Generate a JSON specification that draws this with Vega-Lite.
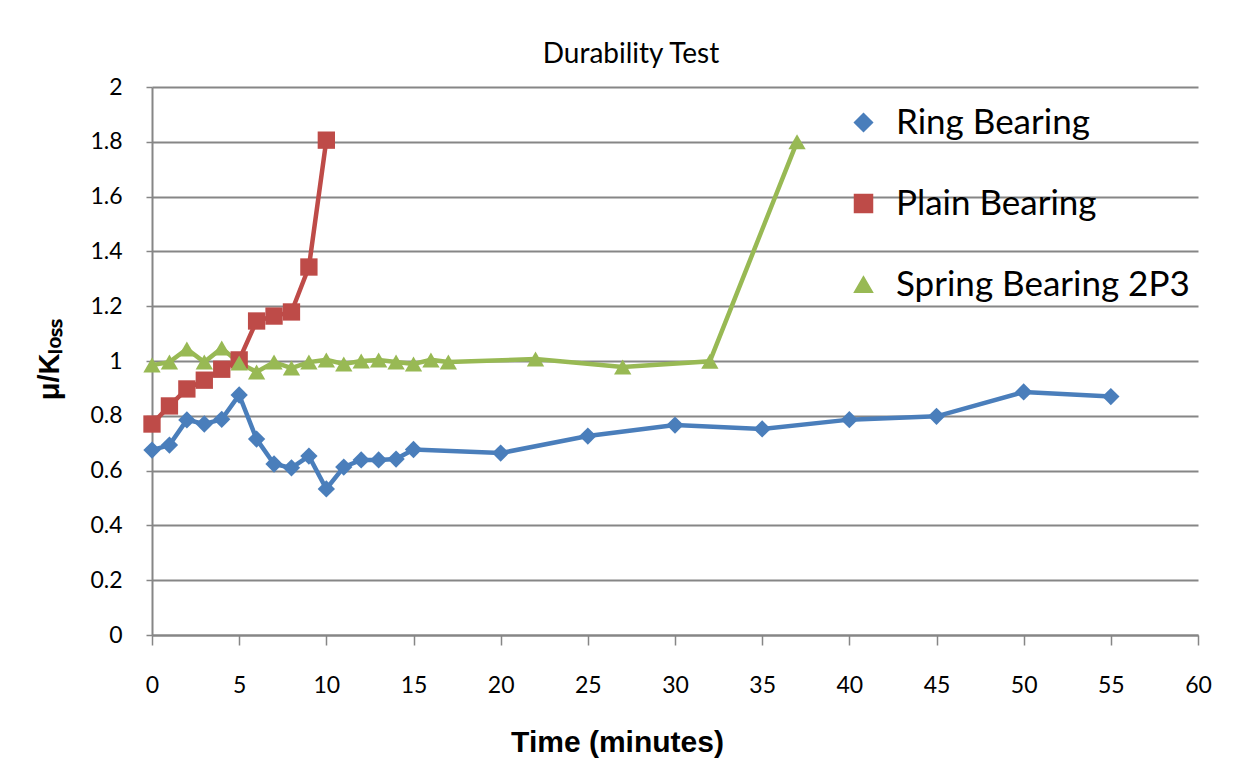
{
  "$schema": "https://vega.github.io/schema/vega-lite/v6.json",
  "autosize": {"type": "none"},
  "width": 1046,
  "height": 548,
  "padding": {"left": 152, "top": 87, "right": 55, "bottom": 125},
  "background": "white",
  "title": {"text": "Durability Test", "font": "Lato", "fontSize": 28, "fontWeight": "normal", "color": "black", "anchor": "middle", "dx": -44, "offset": 7},
  "data": {"values": [
    {"t": 0, "v": 0.675, "s": "Ring Bearing"},
    {"t": 1, "v": 0.693, "s": "Ring Bearing"},
    {"t": 2, "v": 0.785, "s": "Ring Bearing"},
    {"t": 3, "v": 0.77, "s": "Ring Bearing"},
    {"t": 4, "v": 0.787, "s": "Ring Bearing"},
    {"t": 5, "v": 0.876, "s": "Ring Bearing"},
    {"t": 6, "v": 0.715, "s": "Ring Bearing"},
    {"t": 7, "v": 0.624, "s": "Ring Bearing"},
    {"t": 8, "v": 0.61, "s": "Ring Bearing"},
    {"t": 9, "v": 0.653, "s": "Ring Bearing"},
    {"t": 10, "v": 0.533, "s": "Ring Bearing"},
    {"t": 11, "v": 0.613, "s": "Ring Bearing"},
    {"t": 12, "v": 0.639, "s": "Ring Bearing"},
    {"t": 13, "v": 0.639, "s": "Ring Bearing"},
    {"t": 14, "v": 0.642, "s": "Ring Bearing"},
    {"t": 15, "v": 0.677, "s": "Ring Bearing"},
    {"t": 20, "v": 0.664, "s": "Ring Bearing"},
    {"t": 25, "v": 0.726, "s": "Ring Bearing"},
    {"t": 30, "v": 0.766, "s": "Ring Bearing"},
    {"t": 35, "v": 0.752, "s": "Ring Bearing"},
    {"t": 40, "v": 0.786, "s": "Ring Bearing"},
    {"t": 45, "v": 0.798, "s": "Ring Bearing"},
    {"t": 50, "v": 0.887, "s": "Ring Bearing"},
    {"t": 55, "v": 0.87, "s": "Ring Bearing"},
    {"t": 0, "v": 0.77, "s": "Plain Bearing"},
    {"t": 1, "v": 0.836, "s": "Plain Bearing"},
    {"t": 2, "v": 0.898, "s": "Plain Bearing"},
    {"t": 3, "v": 0.93, "s": "Plain Bearing"},
    {"t": 4, "v": 0.97, "s": "Plain Bearing"},
    {"t": 5, "v": 1.004, "s": "Plain Bearing"},
    {"t": 6, "v": 1.146, "s": "Plain Bearing"},
    {"t": 7, "v": 1.164, "s": "Plain Bearing"},
    {"t": 8, "v": 1.179, "s": "Plain Bearing"},
    {"t": 9, "v": 1.343, "s": "Plain Bearing"},
    {"t": 10, "v": 1.806, "s": "Plain Bearing"},
    {"t": 0, "v": 0.985, "s": "Spring Bearing 2P3"},
    {"t": 1, "v": 0.996, "s": "Spring Bearing 2P3"},
    {"t": 2, "v": 1.044, "s": "Spring Bearing 2P3"},
    {"t": 3, "v": 0.996, "s": "Spring Bearing 2P3"},
    {"t": 4, "v": 1.047, "s": "Spring Bearing 2P3"},
    {"t": 5, "v": 0.993, "s": "Spring Bearing 2P3"},
    {"t": 6, "v": 0.96, "s": "Spring Bearing 2P3"},
    {"t": 7, "v": 0.996, "s": "Spring Bearing 2P3"},
    {"t": 8, "v": 0.974, "s": "Spring Bearing 2P3"},
    {"t": 9, "v": 0.996, "s": "Spring Bearing 2P3"},
    {"t": 10, "v": 1.004, "s": "Spring Bearing 2P3"},
    {"t": 11, "v": 0.989, "s": "Spring Bearing 2P3"},
    {"t": 12, "v": 1.0, "s": "Spring Bearing 2P3"},
    {"t": 13, "v": 1.004, "s": "Spring Bearing 2P3"},
    {"t": 14, "v": 0.996, "s": "Spring Bearing 2P3"},
    {"t": 15, "v": 0.989, "s": "Spring Bearing 2P3"},
    {"t": 16, "v": 1.004, "s": "Spring Bearing 2P3"},
    {"t": 17, "v": 0.996, "s": "Spring Bearing 2P3"},
    {"t": 22, "v": 1.007, "s": "Spring Bearing 2P3"},
    {"t": 27, "v": 0.978, "s": "Spring Bearing 2P3"},
    {"t": 32, "v": 0.999, "s": "Spring Bearing 2P3"},
    {"t": 37, "v": 1.8, "s": "Spring Bearing 2P3"}
  ]},
  "encoding": {
    "x": {"field": "t", "type": "quantitative",
      "scale": {"domain": [0, 60], "nice": false, "zero": false},
      "axis": {"values": [0,5,10,15,20,25,30,35,40,45,50,55,60], "grid": false, "title": "Time (minutes)",
        "titleFont": "Liberation Sans", "titleFontSize": 30, "titleFontWeight": "bold", "titleColor": "black",
        "titleX": 465, "titleY": 107, "titleAlign": "center", "titleBaseline": "middle", "labelFlush": false,
        "labelFont": "Lato", "labelFontSize": 23, "labelColor": "black", "labelPadding": 29,
        "domainColor": "#868686", "domainWidth": 2, "tickColor": "#868686", "tickWidth": 1.5, "tickSize": 10}},
    "y": {"field": "v", "type": "quantitative",
      "scale": {"domain": [0, 2], "nice": false},
      "axis": {"values": [0,0.2,0.4,0.6,0.8,1,1.2,1.4,1.6,1.8,2], "format": "~g", "title": "μ/Kₗₒₛₛ",
        "titleFont": "Liberation Sans", "titleFontSize": 29, "titleFontWeight": "bold", "titleColor": "black",
        "titleAngle": -90, "titleX": -103, "titleY": 272, "titleAlign": "center", "titleBaseline": "middle",
        "labelFont": "Lato", "labelFontSize": 23, "labelColor": "black", "labelPadding": 24, "labelFlush": false,
        "gridColor": "#868686", "gridWidth": 2, "domainColor": "#868686", "domainWidth": 2,
        "tickColor": "#868686", "tickWidth": 1.5, "tickSize": 6}},
    "color": {"field": "s", "type": "nominal",
      "scale": {"domain": ["Ring Bearing", "Plain Bearing", "Spring Bearing 2P3"], "range": ["#4A7EBB", "#BE4B48", "#98B954"]},
      "legend": {"title": null, "orient": "none", "legendX": 694, "legendY": 18,
        "labelFont": "Lato", "labelFontSize": 35, "labelColor": "black", "labelOffset": 15, "rowPadding": 45, "labelLimit": 500,
        "symbolSize": 324}}
  },
  "layer": [
    {"mark": {"type": "line", "strokeWidth": 4.5}},
    {"mark": {"type": "point", "filled": true, "opacity": 1},
      "encoding": {
        "shape": {"field": "s", "type": "nominal",
          "scale": {"domain": ["Ring Bearing", "Plain Bearing", "Spring Bearing 2P3"], "range": ["diamond", "square", "triangle-up"]},
          "legend": {"title": null, "orient": "none", "legendX": 694, "legendY": 18,
            "labelFont": "Lato", "labelFontSize": 35, "labelColor": "black", "labelOffset": 15, "rowPadding": 45, "labelLimit": 500,
            "symbolSize": 324}},
        "size": {"value": 300}}}
  ],
  "config": {"view": {"stroke": null}}
}
